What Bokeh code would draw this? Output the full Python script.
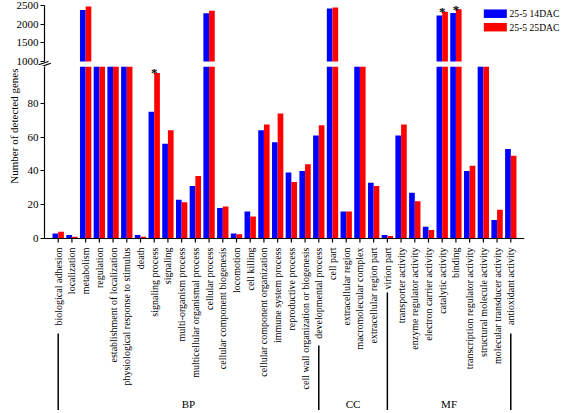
import numpy as np
from bokeh.plotting import figure
from bokeh.models import (ColumnDataSource, Range1d, FixedTicker, LabelSet, Whisker,
                          Span, Title)
from bokeh.layouts import column
from bokeh.transform import dodge
from bokeh.embed import file_html
from bokeh.resources import INLINE

# ---------------- data ----------------
categories = [
    "biological adhesion", "localization", "metabolism", "regulation",
    "establishment of localization", "physiological response to stimulus", "death",
    "signaling process", "signaling", "multi-organism process",
    "multicellular organismal process", "cellular process",
    "cellular component biogenesis", "locomotion", "cell killing",
    "cellular component organization", "immune system process",
    "reproductive process", "cell wall organization or biogenesis",
    "developmental process",
    "cell part", "extracellular region", "macromolecular complex",
    "extracellular region part", "virion part",
    "transporter activity", "enzyme regulator activity", "electron carrier activity",
    "catalytic activity", "binding", "transcription regulator activity",
    "structural molecule activity", "molecular transducer activity",
    "antioxidant activity",
]
group_names = ["BP", "CC", "MF"]
group_sizes = [20, 5, 9]

dac14 = [3, 2, 2380, 560, 480, 350, 2, 75, 56, 23, 31, 2290, 18, 3, 16, 64, 57, 39, 40, 61,
         2420, 16, 420, 33, 2, 61, 27, 7, 2235, 2300, 40, 250, 11, 53]
dac25 = [4, 1, 2470, 580, 500, 360, 1, 98, 64, 21.5, 37, 2360, 19, 2.5, 13, 67.5, 74, 33.5, 44, 67,
         2445, 16, 430, 31, 1.5, 67.5, 22, 5, 2330, 2400, 43, 260, 17, 49]
series_names = ["25-5 14DAC", "25-5 25DAC"]
y_title = "Number of detected genes"
starred = ["signaling process", "catalytic activity", "binding"]

lower_ticks = [0, 20, 40, 60, 80]
upper_ticks = [1000, 1500, 2000, 2500]
lower_limit = [0, 100]
upper_limit = [1000, 2500]

# ---------------- layout constants ----------------
W, H = 564, 410
BL, BR = 42, 40            # frame borders
H_UP = 66                  # upper panel canvas height
Y0 = 238                   # canvas y of the zero line
BELOW = H - Y0             # px below the zero line
SERIF = "Liberation Serif"
SANS = "Liberation Sans"
BLUE, RED = "#0000FF", "#FF0000"
COLORS = [BLUE, RED]
BW = 0.414
BLACK = "black"

n = len(categories)
xs = np.arange(1, n + 1)
a = np.array(dac14, dtype=float)
b = np.array(dac25, dtype=float)
src = ColumnDataSource(dict(x=xs, a=a, b=b))
x_range = Range1d(0, n + 1)
X_PX = (W - BL - BR) / (n + 1)          # px per category unit


def style_y(p, ticks, bounds):
    ax = p.yaxis[0]
    ax.ticker = FixedTicker(ticks=ticks, minor_ticks=[])
    ax.bounds = bounds
    ax.axis_line_width = 1.2
    ax.major_tick_line_width = 1.2
    ax.major_tick_out = 4
    ax.major_tick_in = 0
    ax.minor_tick_out = 0
    ax.major_label_standoff = 2
    ax.major_label_text_font = SERIF
    ax.major_label_text_font_size = "11px"
    ax.major_label_text_color = BLACK


def base_fig(height, y_range):
    p = figure(width=W, height=height, x_range=x_range, y_range=y_range,
               output_backend="svg", toolbar_location=None, x_axis_location=None,
               min_border_left=BL, min_border_right=BR,
               min_border_top=0, min_border_bottom=0)
    p.grid.visible = False
    p.outline_line_color = None
    p.background_fill_color = "white"
    p.border_fill_color = "white"
    return p


def add_stars(p, lo, hi):
    mx = np.maximum(a, b)
    sel = [categories.index(s) for s in starred]
    sel = [i for i in sel if lo <= mx[i] <= hi]
    r = p.text(x=xs[sel], y=mx[sel], text=["*"] * len(sel), text_align="center",
               text_baseline="middle", text_font="DejaVu Sans", text_font_style="bold",
               text_font_size="13px", text_color=BLACK)
    r.level = "overlay"


# ---------- upper panel (top part of the broken axis) ----------
up_px = (H_UP - 10) / (upper_limit[1] - upper_limit[0])      # px per unit
p_up = base_fig(H_UP, Range1d(upper_limit[0] - 5 / up_px, upper_limit[1] + 5 / up_px))
style_y(p_up, upper_ticks, tuple(upper_limit))
ka, kb = a > upper_limit[0], b > upper_limit[0]
p_up.vbar(x=xs[ka] - BW / 2, top=a[ka], bottom=upper_limit[0], width=BW,
          fill_color=BLUE, line_color=None)
p_up.vbar(x=xs[kb] + BW / 2, top=b[kb], bottom=upper_limit[0], width=BW,
          fill_color=RED, line_color=None)
add_stars(p_up, upper_limit[0], 1e9)


def up_x(px):      # canvas px -> upper-panel x units
    return (px - BL) / X_PX


def up_y(py):      # canvas px -> upper-panel y units (2500 sits at py = 5)
    return upper_limit[1] - (py - 5) / up_px


# axis break marks
brk = p_up.segment(x0=[up_x(36), up_x(37.3)], y0=[up_y(64.3), up_y(66.7)],
                   x1=[up_x(46), up_x(48.3)], y1=[up_y(61), up_y(62.7)],
                   line_color=BLACK, line_width=1.2)
brk.level = "overlay"

# legend (drawn unclipped, over the top-right corner)
rows_py = [13.2, 26.7]
leg_r = p_up.rect(x=[up_x(494.7)] * 2, y=[up_y(v) for v in rows_py], width=23, height=8.5,
                  width_units="screen", height_units="screen",
                  fill_color=COLORS, line_color=None)
leg_r.level = "overlay"
leg_t = p_up.text(x=[up_x(509)] * 2, y=[up_y(v) for v in rows_py], text=series_names,
                  text_align="left", text_baseline="middle", text_font=SANS,
                  text_font_size="9.6px", text_color=BLACK)
leg_t.level = "overlay"

# ---------- lower panel + category labels ----------
H_LOW = H - H_UP
low_px = (Y0 - H_UP - 3) / (lower_limit[1] - lower_limit[0])
y_hi = lower_limit[1] + 3 / low_px
p_low = base_fig(H_LOW, Range1d(-BELOW / low_px, y_hi))
style_y(p_low, lower_ticks, (0, y_hi))
p_low.vbar(x=dodge("x", -BW / 2), top="a", bottom=0, width=BW, source=src,
           fill_color=BLUE, line_color=None)
p_low.vbar(x=dodge("x", BW / 2), top="b", bottom=0, width=BW, source=src,
           fill_color=RED, line_color=None)
add_stars(p_low, -1, lower_limit[1])

# x axis line, ticks and category labels
p_low.add_layout(Span(location=0, dimension="width", line_color=BLACK, line_width=1.2))
p_low.ray(x=xs, y=0, length=4, length_units="screen", angle=-np.pi / 2,
          line_color=BLACK, line_width=1.2)
p_low.text(x=xs, y=0, text=categories, angle=np.pi / 2, y_offset=9,
           text_align="right", text_baseline="middle", text_font=SERIF,
           text_font_size="10px", text_color=BLACK)

# y-axis title
p_low.add_layout(Title(text=y_title, align="right", offset=2, standoff=10,
                       text_font=SERIF, text_font_size="11px", text_font_style="normal",
                       text_color=BLACK), "left")

# group brackets (screen y measured from the bottom of the frame)
ends = np.cumsum(group_sizes)
edges = [1] + [int(e) for e in ends]
gaps_below_axis = [95, 107, 54, 95]
w_src = ColumnDataSource(dict(base=edges, upper=[BELOW - g for g in gaps_below_axis],
                              lower=[-5] * len(edges)))
p_low.add_layout(Whisker(source=w_src, base="base", upper="upper", lower="lower",
                         dimension="height", base_units="data", upper_units="screen",
                         lower_units="screen", line_color=BLACK, line_width=1.5,
                         upper_head=None, lower_head=None))
mids = [(edges[i] + edges[i + 1]) / 2 for i in range(len(group_names))]
g_src = ColumnDataSource(dict(x=mids, y=[7] * len(mids), t=group_names))
p_low.add_layout(LabelSet(x="x", y="y", text="t", source=g_src, y_units="screen",
                          text_align="center", text_baseline="middle",
                          text_font=SERIF, text_font_size="11px", text_color=BLACK))

layout = column(p_up, p_low, spacing=0)
open("out.html", "w").write(file_html(layout, INLINE))
